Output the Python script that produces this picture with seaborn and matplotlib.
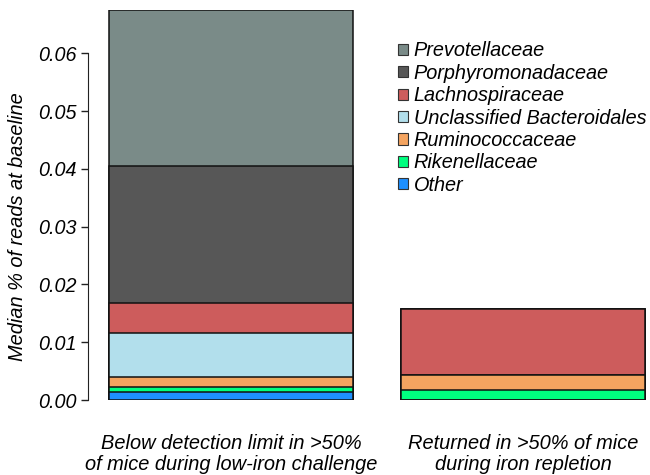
import pandas as pd
import numpy as np
import matplotlib
matplotlib.use("Agg")
import matplotlib.pyplot as plt
import seaborn as sns
from matplotlib.patches import Patch

# data (median % of reads at baseline), bottom -> top
groups = ["Below detection limit in >50%\nof mice during low-iron challenge",
          "Returned in >50% of mice\nduring iron repletion"]
families = ["Other", "Rikenellaceae", "Ruminococcaceae", "Unclassified Bacteroidales",
            "Lachnospiraceae", "Porphyromonadaceae", "Prevotellaceae"]
below_limit = [0.00133, 0.00087, 0.00173, 0.0076, 0.0053, 0.0237, 0.0270]
returned = [0.0, 0.00173, 0.0026, 0.0, 0.0114, 0.0, 0.0]
colors = ["#1E90FF", "#00FF7F", "#F4A460", "#B2DFEC",
          "#CD5C5C", "#575757", "#7A8B88"]

sns.set_style("white")
plt.rcParams['font.family'] = ['Liberation Sans', 'DejaVu Sans']
plt.rcParams['text.color'] = 'black'
plt.rcParams['ytick.color'] = '#222222'
plt.rcParams['ytick.labelcolor'] = 'black'

fig = plt.figure(figsize=(6.5, 4.75), dpi=100)
ax = fig.add_axes([88/650, 1 - 400/475, 1 - 88/650, 390/475])

# stacked: draw cumulative totals from top layer down
cum1 = np.cumsum(below_limit)
cum2 = np.cumsum(returned)
for i in range(len(families) - 1, -1, -1):
    d = pd.DataFrame({"group": groups, "value": [cum1[i], cum2[i]]})
    sns.barplot(data=d, x="group", y="value", color=colors[i], width=0.836,
                edgecolor="#111111", linewidth=1.1, saturation=1, ax=ax)

ax.set_xlim(-0.49, 1.435)
ax.set_ylim(0, 0.0675)
ax.set_yticks([0, 0.01, 0.02, 0.03, 0.04, 0.05, 0.06])
ax.set_yticklabels(["0.00", "0.01", "0.02", "0.03", "0.04", "0.05", "0.06"],
                   fontsize=14.2, style="italic", color="black")
ax.tick_params(axis="y", left=True, length=5, width=1, pad=3)
ax.tick_params(axis="x", bottom=False, pad=21)
for lab in ax.get_xticklabels():
    lab.set_fontsize(14.4)
    lab.set_style("italic")
    lab.set_color("black")
    lab.set_linespacing(1.1)
ax.set_xlabel("")
ax.set_ylabel("Median % of reads at baseline", fontsize=14.4, style="italic", color="black")
ax.yaxis.set_label_coords(-0.108, 0.03 / 0.0675)
for s in ["top", "right", "bottom"]:
    ax.spines[s].set_visible(False)
ax.spines["left"].set_bounds(0, 0.06)
ax.spines["left"].set_color("#222222")

handles = [Patch(facecolor=colors[i], edgecolor="#333333", linewidth=0.8, label=families[i])
           for i in range(len(families) - 1, -1, -1)]
leg = fig.legend(handles=handles, loc="upper left", bbox_to_anchor=(398/650, 1 - 41.5/475),
                 frameon=False, borderpad=0, borderaxespad=0,
                 handlelength=0.5, handleheight=0.5, handletextpad=0.3,
                 labelspacing=0.17, prop={"size": 14.3, "style": "italic"})
for t in leg.get_texts():
    t.set_color("black")

fig.savefig("out.png", dpi=100)
